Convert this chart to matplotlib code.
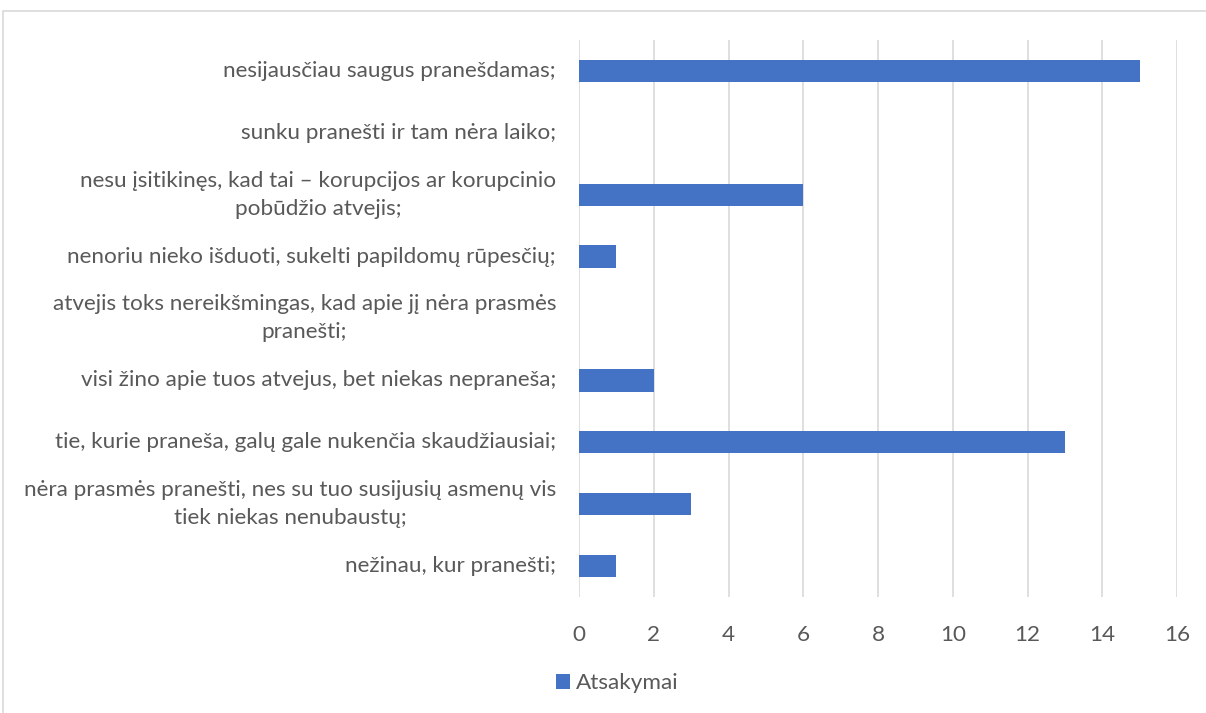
import matplotlib
matplotlib.use("Agg")
import matplotlib.pyplot as plt
from matplotlib.patches import Rectangle

categories = [
    "nesijausčiau saugus pranešdamas;",
    "sunku pranešti ir tam nėra laiko;",
    "nesu įsitikinęs, kad tai – korupcijos ar korupcinio\npobūdžio atvejis;",
    "nenoriu nieko išduoti, sukelti papildomų rūpesčių;",
    "atvejis toks nereikšmingas, kad apie jį nėra prasmės\npranešti;",
    "visi žino apie tuos atvejus, bet niekas nepraneša;",
    "tie, kurie praneša, galų gale nukenčia skaudžiausiai;",
    "nėra prasmės pranešti, nes su tuo susijusių asmenų vis\ntiek niekas nenubaustų;",
    "nežinau, kur pranešti;",
]
values = [15, 0, 6, 1, 0, 2, 13, 3, 1]
series_name = "Atsakymai"
xticks = [0, 2, 4, 6, 8, 10, 12, 14, 16]

TEXT = "#595959"
BAR = "#4472C4"
GRID = "#D9D9D9"
FS = 16.2

plt.rcParams["font.family"] = ["Lato", "DejaVu Sans"]

fig = plt.figure(figsize=(12.06, 7.13), dpi=100)
ax = fig.add_axes([0.4801, 0.1627, 0.4959, 0.7812])

y = list(range(len(categories)))
ax.barh(y, values, height=0.36, color=BAR, label=series_name, zorder=3)
ax.set_ylim(len(categories) - 0.5, -0.5)
ax.set_xlim(0, 16)
ax.set_xticks(xticks)
ax.set_xticklabels([str(t) for t in xticks])
ax.set_yticks(y)
ax.set_yticklabels(categories, ha="center", va="center", multialignment="center",
                   linespacing=1.5)
ax.grid(axis="x", color=GRID, linewidth=1.2, zorder=0)
for s in ax.spines.values():
    s.set_visible(False)
ax.tick_params(axis="both", length=0, colors=TEXT, labelsize=FS)
ax.tick_params(axis="x", pad=20)

# centre the category labels in the area left of the axes
fig.canvas.draw()
r = fig.canvas.get_renderer()
for lab in ax.get_yticklabels():
    w = lab.get_window_extent(r).width
    lab.set_x(-(23 + w / 2) / (0.4959 * 1206))
    lab.set_transform(ax.get_yaxis_transform())

ax.legend(loc="center", bbox_to_anchor=(617 / 1206, 1 - 683 / 713),
          bbox_transform=fig.transFigure, frameon=False, fontsize=FS,
          labelcolor=TEXT, handlelength=0.65, handleheight=0.65, handletextpad=0.25)

fig.patches.append(Rectangle((3 / 1206, -0.1), 1.2, 1 - 11 / 713 + 0.1,
                             transform=fig.transFigure, fill=False,
                             edgecolor=GRID, linewidth=1.2))

fig.savefig("out.png", dpi=100)
